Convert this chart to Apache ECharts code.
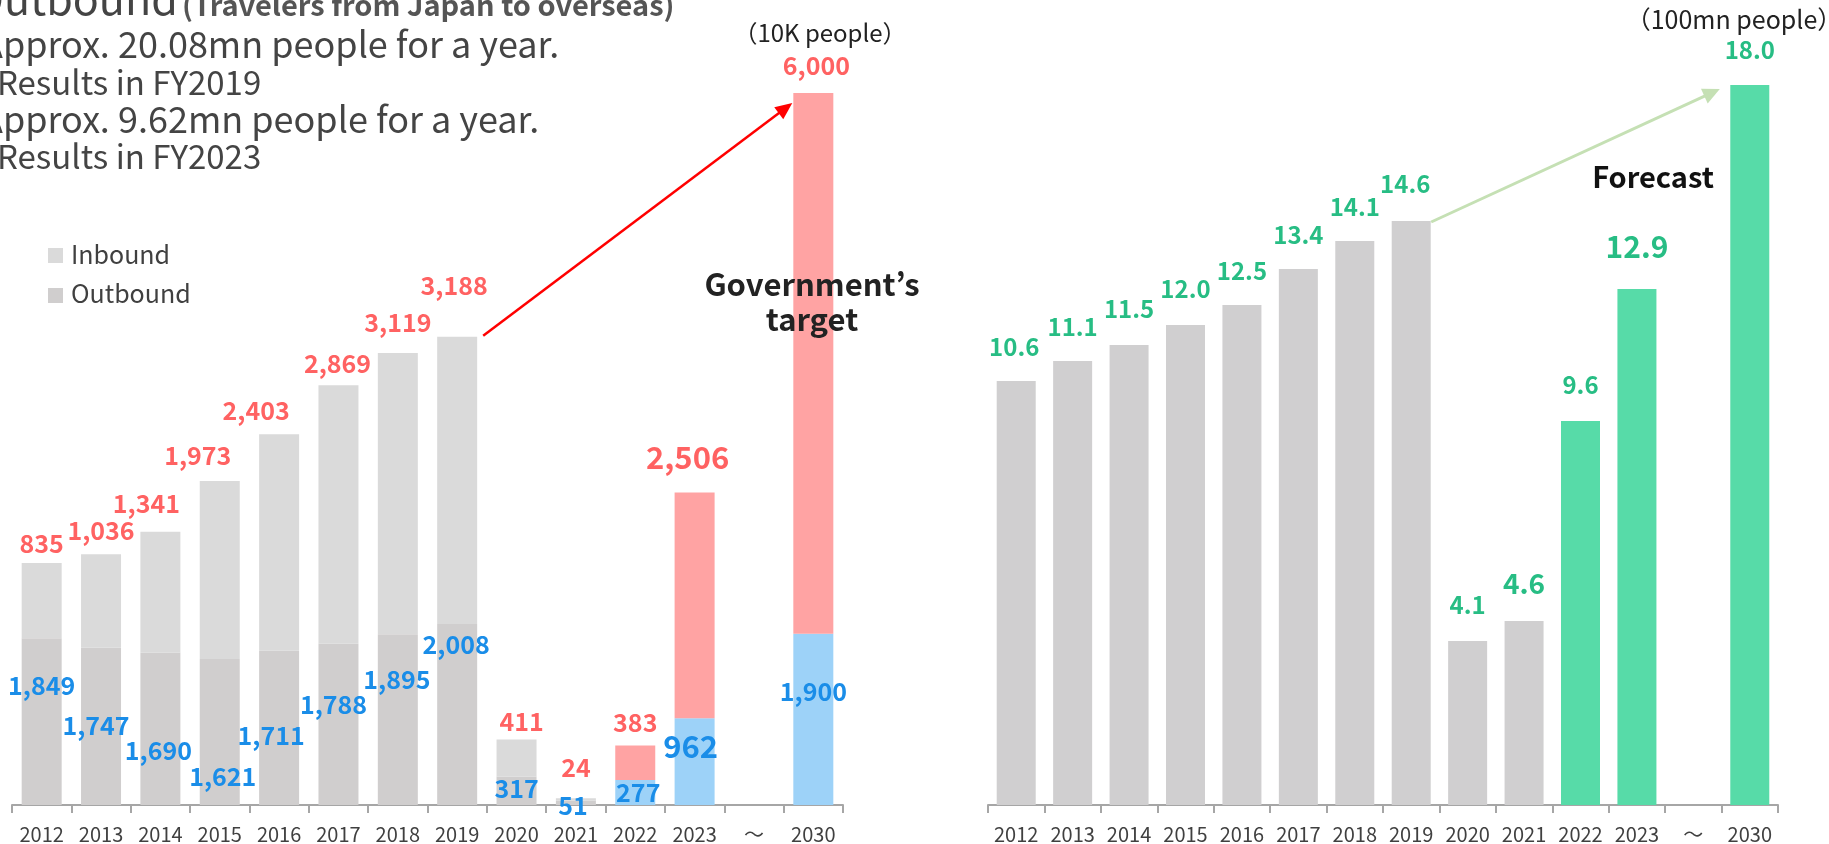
<!DOCTYPE html>
<html>
<head>
<meta charset="utf-8">
<script src="https://cdn.jsdelivr.net/npm/echarts@6/dist/echarts.min.js"></script>
<style>
  html, body { margin: 0; padding: 0; background: #ffffff; }
  #chart { width: 1829px; height: 844px; }
</style>
</head>
<body>
<div id="chart"></div>
<script>
// Visitors (10K people), by year; '～' marks the gap before the 2030 target
const years = ['2012', '2013', '2014', '2015', '2016', '2017', '2018', '2019', '2020', '2021', '2022', '2023', '～', '2030'];
const outboundVisitors = [1849, 1747, 1690, 1621, 1711, 1788, 1895, 2008, 317, 51, 277, 962, null, 1900];
const inboundVisitors = [835, 1036, 1341, 1973, 2403, 2869, 3119, 3188, 411, 24, 383, 2506, null, 6000];

// Total travellers (100mn people)
const travellers = [10.6, 11.1, 11.5, 12.0, 12.5, 13.4, 14.1, 14.6, 4.1, 4.6, 9.6, 12.9, null, 18.0];

const FONT = '"Noto Sans CJK JP", "Noto Sans", sans-serif';
const fmt = v => v.toLocaleString('en-US');

// label placement: [dx, distance of label centre from the bar top]
const inLabelNudge = [[0, 20], [0, 24], [-14, 28], [-22, 26], [-23, 24], [-1, 22], [0, 31], [-3, 51], [5, 18], [0, 31], [0, 23], [-7, 35], null, [3, 28]];
const outLabelNudge = [[0, 47], [-5, 78], [-2, 98], [3, 118], [-8, 85], [-5, 61], [-1, 45], [-1, 20], [0, 12], [-3, 5], [3, 12], [-4, 28], null, [0, 58]];
const rightLabelNudge = [[-2, 34], [0, 34], [0, 36], [0, 36], [0, 34], [0, 34], [0, 34], [-6, 37], [0, 36], [0, 38], [0, 36], [0, 42], null, [0, 35]];

const isTarget = i => i >= 10;
const bigLabel = i => i === 11;

const outboundData = outboundVisitors.map((v, i) => {
  if (v == null) return '-';
  const fs = bigLabel(i) ? 31 : 25;
  const n = outLabelNudge[i];
  return {
    value: v,
    itemStyle: { color: isTarget(i) ? '#9dd2f8' : '#d0cece' },
    label: {
      show: true, position: 'insideTop', distance: 0,
      offset: [n[0], n[1] - fs / 2],
      fontSize: fs, fontWeight: bigLabel(i) ? 'bold' : 600,
      color: '#1a8de8', fontFamily: FONT,
      formatter: fmt(v)
    }
  };
});

const inboundData = inboundVisitors.map((v, i) => {
  if (v == null) return '-';
  const fs = bigLabel(i) ? 31 : 25;
  const n = inLabelNudge[i];
  return {
    value: v,
    itemStyle: { color: isTarget(i) ? '#ffa3a3' : '#dadada' },
    label: {
      show: true, position: 'top', distance: 0,
      offset: [n[0], -(n[1] - fs / 2)],
      fontSize: fs, fontWeight: bigLabel(i) ? 'bold' : 600,
      color: '#ff6262', fontFamily: FONT,
      formatter: fmt(v)
    }
  };
});

const travellerData = travellers.map((v, i) => {
  if (v == null) return '-';
  const fs = i === 11 ? 30 : (i === 9 ? 28 : 24);
  const n = rightLabelNudge[i];
  return {
    value: v,
    itemStyle: { color: isTarget(i) ? '#57dba8' : '#d0cfd0' },
    label: {
      show: true, position: 'top', distance: 0,
      offset: [n[0], -(n[1] - fs / 2)],
      fontSize: fs, fontWeight: 'bold',
      color: '#27bd84', fontFamily: FONT,
      formatter: v.toFixed(1)
    }
  };
});

const axisColor = '#a6a6a6';
const xAxisBase = {
  type: 'category',
  data: years,
  axisLine: { lineStyle: { color: axisColor, width: 2 } },
  axisTick: { show: true, length: 8, lineStyle: { color: axisColor, width: 2 } },
  axisLabel: { interval: 0, margin: 19, fontSize: 20, color: '#404040', fontFamily: FONT },
  splitLine: { show: false }
};

const textEl = (text, x, y, size, weight, color, align) => ({
  type: 'text', x, y, z: 100, silent: true,
  style: {
    text, fontSize: size, fontWeight: weight || 'normal', fill: color || '#444444',
    fontFamily: FONT, align: align || 'left', verticalAlign: 'middle'
  }
});

const chart = echarts.init(document.getElementById('chart'), null, { renderer: 'canvas' });

chart.setOption({
  animation: false,
  backgroundColor: '#ffffff',
  grid: [
    { left: 12, top: 84, width: 831, height: 721 },
    { left: 988, top: 85, width: 790, height: 720 }
  ],
  xAxis: [
    Object.assign({ gridIndex: 0 }, xAxisBase),
    Object.assign({ gridIndex: 1 }, xAxisBase)
  ],
  yAxis: [
    { gridIndex: 0, type: 'value', min: 0, max: 8000, show: false },
    { gridIndex: 1, type: 'value', min: 0, max: 18, show: false }
  ],
  series: [
    { name: 'Outbound', type: 'bar', xAxisIndex: 0, yAxisIndex: 0, stack: 'visitors', barWidth: 40, data: outboundData },
    { name: 'Inbound', type: 'bar', xAxisIndex: 0, yAxisIndex: 0, stack: 'visitors', barWidth: 40, data: inboundData },
    { name: 'Travellers', type: 'bar', xAxisIndex: 1, yAxisIndex: 1, barWidth: 39, data: travellerData }
  ]
});

// Annotations: headings, legend, notes and trend arrows
function arrow(from, to, color, width, headLen, headHalf) {
  const dx = to[0] - from[0], dy = to[1] - from[1];
  const len = Math.sqrt(dx * dx + dy * dy);
  const ux = dx / len, uy = dy / len;
  const bx = to[0] - ux * headLen, by = to[1] - uy * headLen;
  return [
    { type: 'line', z: 90, silent: true, shape: { x1: from[0], y1: from[1], x2: bx + ux * 2, y2: by + uy * 2 },
      style: { stroke: color, lineWidth: width } },
    { type: 'polygon', z: 90, silent: true,
      shape: { points: [to, [bx - uy * headHalf, by + ux * headHalf], [bx + uy * headHalf, by - ux * headHalf]] },
      style: { fill: color } }
  ];
}

const total2019 = outboundVisitors[7] + inboundVisitors[7];
const total2030 = outboundVisitors[13] + inboundVisitors[13];
const p2019 = chart.convertToPixel({ gridIndex: 0 }, [years[7], total2019]);
const p2030 = chart.convertToPixel({ gridIndex: 0 }, [years[13], total2030]);
const q2019 = chart.convertToPixel({ gridIndex: 1 }, [years[7], travellers[7]]);
const q2030 = chart.convertToPixel({ gridIndex: 1 }, [years[13], travellers[13]]);

const graphics = [
  textEl('Outbound', -28, -1, 43, 'normal', '#444444'),
  textEl('(Travelers from Japan to overseas)', 182, 5, 29, 'bold', '#555555'),
  textEl('Approx. 20.08mn people for a year.', -19, 44, 36, 'normal', '#444444'),
  textEl('Results in FY2019', -3, 82, 33, 'normal', '#444444'),
  textEl('Approx. 9.62mn people for a year.', -19, 119, 36, 'normal', '#444444'),
  textEl('Results in FY2023', -3, 156, 33, 'normal', '#444444'),

  { type: 'rect', z: 100, silent: true, shape: { x: 48, y: 248, width: 15, height: 15 }, style: { fill: '#dadada' } },
  { type: 'rect', z: 100, silent: true, shape: { x: 48, y: 288, width: 15, height: 15 }, style: { fill: '#d0cece' } },
  textEl('Inbound', 71, 254, 25, 'normal', '#404040'),
  textEl('Outbound', 71, 293, 25, 'normal', '#404040'),

  textEl('（10K people）', 820, 33, 24, 'normal', '#222222', 'center'),
  textEl('Government’s', 812, 284, 31, 'bold', '#222222', 'center'),
  textEl('target', 812, 319, 31, 'bold', '#222222', 'center'),

  textEl('（100mn people）', 1734, 19, 25, 'normal', '#222222', 'center'),
  textEl('Forecast', 1653, 177, 29, 'bold', '#111111', 'center')
];

graphics.push(...arrow([p2019[0] + 26, p2019[1] - 1], [p2030[0] - 21, p2030[1] + 10], '#ff0000', 2.5, 17, 7.5));
graphics.push(...arrow([q2019[0] + 20, q2019[1] + 1], [q2030[0] - 30, q2030[1] + 4], '#c5e0b4', 3, 17, 8));

chart.setOption({ graphic: graphics });
</script>
</body>
</html>
